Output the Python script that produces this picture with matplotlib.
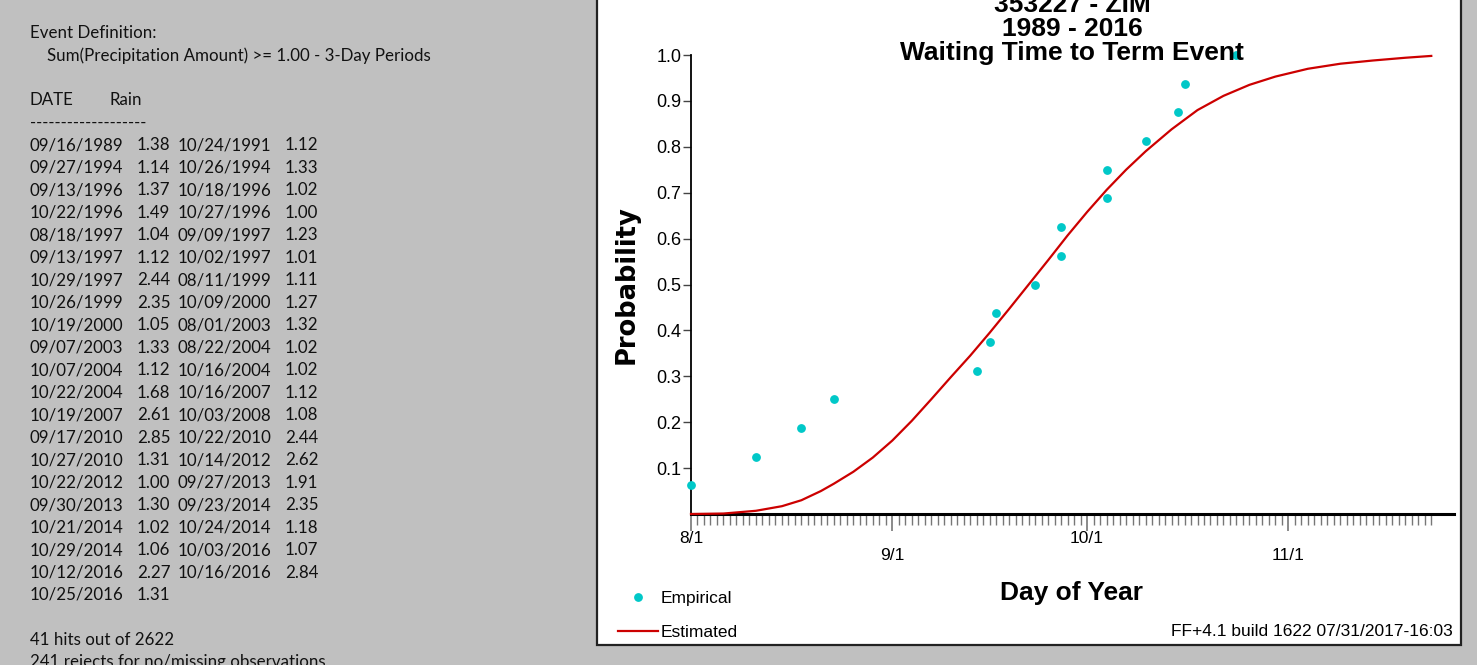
import matplotlib
matplotlib.use("Agg")
import matplotlib.pyplot as plt
from matplotlib.patches import Rectangle

W, H = 1477, 665

# chart titles
station = "353227 - ZIM"
years = "1989 - 2016"
title = "Waiting Time to Term Event"
footer = "FF+4.1 build 1622 07/31/2017-16:03"

# event listing on the left
event_lines = ["Event Definition:", "Sum(Precipitation Amount) >= 1.00 - 3-Day Periods"]
dates = ["09/16/1989", "10/24/1991", "09/27/1994", "10/26/1994", "09/13/1996", "10/18/1996",
         "10/22/1996", "10/27/1996", "08/18/1997", "09/09/1997", "09/13/1997", "10/02/1997",
         "10/29/1997", "08/11/1999", "10/26/1999", "10/09/2000", "10/19/2000", "08/01/2003",
         "09/07/2003", "08/22/2004", "10/07/2004", "10/16/2004", "10/22/2004", "10/16/2007",
         "10/19/2007", "10/03/2008", "09/17/2010", "10/22/2010", "10/27/2010", "10/14/2012",
         "10/22/2012", "09/27/2013", "09/30/2013", "09/23/2014", "10/21/2014", "10/24/2014",
         "10/29/2014", "10/03/2016", "10/12/2016", "10/16/2016", "10/25/2016"]
rain = [1.38, 1.12, 1.14, 1.33, 1.37, 1.02, 1.49, 1.00, 1.04, 1.23, 1.12, 1.01, 2.44, 1.11,
        2.35, 1.27, 1.05, 1.32, 1.33, 1.02, 1.12, 1.02, 1.68, 1.12, 2.61, 1.08, 2.85, 2.44,
        1.31, 2.62, 1.00, 1.91, 1.30, 2.35, 1.02, 1.18, 1.06, 1.07, 2.27, 2.84, 1.31]
summary_lines = ["41 hits out of 2622", "241 rejects for no/missing observations"]

# empirical points: days after 8/1, probability
emp_day = [0, 10, 17, 22, 44, 46, 47, 53, 57, 57, 64, 64, 70, 75, 76, 84]
emp_prob = [0.0625, 0.125, 0.1875, 0.25, 0.3125, 0.375, 0.4375, 0.5, 0.5625, 0.625,
            0.6875, 0.75, 0.8125, 0.875, 0.9375, 1.0]

# estimated curve
est_day = [0, 5, 10, 14, 17, 20, 22, 25, 28, 31, 34, 37, 40, 43, 46, 49, 52, 55, 58,
           61, 64, 67, 70, 74, 78, 82, 86, 90, 95, 100, 105, 110, 114]
est_prob = [0.0, 0.001, 0.007, 0.017, 0.03, 0.05, 0.066, 0.092, 0.123, 0.16, 0.203, 0.25,
            0.298, 0.345, 0.395, 0.447, 0.5, 0.553, 0.607, 0.658, 0.706, 0.75, 0.79,
            0.838, 0.88, 0.911, 0.935, 0.953, 0.97, 0.981, 0.988, 0.994, 0.998]

month_days = [0, 31, 61, 92]
month_labels = ["8/1", "\n9/1", "10/1", "\n11/1"]
y_ticks = [0.1, 0.2, 0.3, 0.4, 0.5, 0.6, 0.7, 0.8, 0.9, 1.0]


def fx(x):
    return x / W


def fy(y):
    return 1 - y / H


fig = plt.figure(figsize=(W / 100, H / 100), dpi=100, facecolor="#c0c0c0")
fig.add_artist(Rectangle((fx(597), fy(645)), fx(1461) - fx(597), 1.0,
                         transform=fig.transFigure, facecolor="white",
                         edgecolor="#222222", lw=1.6, zorder=0))

ax = fig.add_axes([fx(691), fy(514), fx(1454) - fx(691), fy(55) - fy(514)])
ax.set_facecolor("none")
ax.set_xlim(0, 117.5)
ax.set_ylim(0, 1.0)
for s in ["top", "right"]:
    ax.spines[s].set_visible(False)
ax.spines["bottom"].set_linewidth(2.2)
ax.spines["left"].set_linewidth(1.3)

ax.set_yticks(y_ticks)
ax.set_yticklabels([f"{v:.1f}" for v in y_ticks])
ax.tick_params(axis="y", length=6, width=1, color="#444444", pad=1, labelsize=13,
               labelfontfamily="Liberation Sans")
ax.set_xticks(month_days)
ax.set_xticklabels(month_labels)
ax.set_xticks(range(0, 115), minor=True)
ax.tick_params(axis="x", which="major", length=12, width=1.2, color="#777777", pad=0,
               labelsize=12.5, labelfontfamily="Liberation Sans")
ax.tick_params(axis="x", which="minor", length=8, width=1, color="#777777")

ax.plot(est_day, est_prob, color="#cc0000", lw=1.6, clip_on=False, label="Estimated", zorder=3)
ax.plot(emp_day, emp_prob, ls="none", marker="o", ms=5.3, color="#00c8c8", mec="#00c8c8",
        clip_on=False, label="Empirical", zorder=4)

# titles and labels
bold = dict(family="Liberation Sans", weight="bold", ha="center", va="baseline")
fig.text(fx(1072), fy(12), station, fontsize=19, **bold)
fig.text(fx(1072), fy(36), years, fontsize=19, **bold)
fig.text(fx(1072), fy(60), title, fontsize=19, **bold)
fig.text(fx(1072), fy(600), "Day of Year", fontsize=19, **bold)
fig.text(fx(627), fy(285), "Probability", fontsize=18.5, family="DejaVu Sans", weight="bold",
         rotation=90, ha="center", va="center")
fig.text(fx(1453), fy(631), footer, fontsize=12.5, family="Liberation Sans",
         ha="right", va="center")

handles, labels = ax.get_legend_handles_labels()
fig.legend(handles[::-1], labels[::-1], loc="upper left",
           bbox_to_anchor=(fx(609), fy(582)), frameon=False,
           prop=dict(family="Liberation Sans", size=12.5), handlelength=2.3,
           handletextpad=0.2, labelspacing=1.1, borderpad=0, numpoints=1)

# event listing
txt = dict(family="Lato", fontsize=12.2, va="center", color="#111111")


def line_y(k):
    return fy(33 + 22.48 * k)


fig.text(fx(30), line_y(0), event_lines[0], **txt)
fig.text(fx(47), line_y(1), event_lines[1], **txt)
fig.text(fx(30), line_y(3), "DATE", **txt)
fig.text(fx(109), line_y(3), "Rain", **txt)
fig.text(fx(30), line_y(4), "-" * 19, **txt)
for i, (d, r) in enumerate(zip(dates, rain)):
    row, col = divmod(i, 2)
    x0 = 30 if col == 0 else 178
    fig.text(fx(x0), line_y(5 + row), d, **txt)
    fig.text(fx(x0 + 107), line_y(5 + row), f"{r:.2f}", **txt)
fig.text(fx(30), line_y(27), summary_lines[0], **txt)
fig.text(fx(30), line_y(28), summary_lines[1], **txt)

fig.savefig("out.png", dpi=100, facecolor=fig.get_facecolor())
